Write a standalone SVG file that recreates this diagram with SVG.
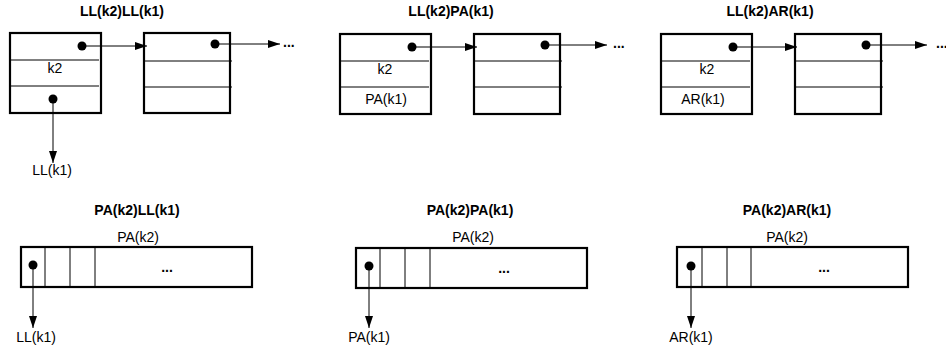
<svg xmlns="http://www.w3.org/2000/svg" width="946" height="351" viewBox="0 0 946 351">
<style>
text{font-family:"Liberation Sans",Arial,sans-serif;font-size:14px;fill:#000}
.t{font-weight:bold;text-anchor:middle}
.c{text-anchor:middle}
.d{font-weight:bold}
.box{fill:#fff;stroke:#000;stroke-width:2.2}
.div{stroke:#000;stroke-width:1}
.con{stroke:#000;stroke-width:1;fill:none;marker-end:url(#ah)}
.dot{fill:#000}
</style>
<defs>
<marker id="ah" markerUnits="userSpaceOnUse" markerWidth="13" markerHeight="9" refX="12" refY="4" orient="auto">
<path d="M0,0 L12,4 L0,8 z" fill="#000"/>
</marker>
</defs>
<rect width="946" height="351" fill="#fff"/>

<text class="t" x="122" y="16">LL(k2)LL(k1)</text>
<text class="t" x="451" y="16">LL(k2)PA(k1)</text>
<text class="t" x="770" y="16">LL(k2)AR(k1)</text>
<text class="t" x="137" y="215">PA(k2)LL(k1)</text>
<text class="t" x="470" y="215">PA(k2)PA(k1)</text>
<text class="t" x="787" y="215">PA(k2)AR(k1)</text>

<g id="p1-node1">
<rect class="box" x="10" y="33" width="91" height="80"/>
<line class="div" x1="10" y1="60" x2="99" y2="60"/>
<line class="div" x1="10" y1="86" x2="99" y2="86"/>
<text class="c" x="55" y="73">k2</text>
<circle class="dot" cx="82" cy="46" r="4.5"/>
<circle class="dot" cx="53" cy="99" r="4.5"/>
</g>
<g id="p1-node2">
<rect class="box" x="144" y="33" width="86" height="80"/>
<line class="div" x1="144" y1="61" x2="232" y2="61"/>
<line class="div" x1="144" y1="87" x2="232" y2="87"/>
<circle class="dot" cx="215" cy="44" r="4.5"/>
<text class="d" x="283" y="47">...</text>
</g>
<g id="p1-ll">
<text class="c" x="52" y="175">LL(k1)</text>
</g>

<g id="p2-node1">
<rect class="box" x="340" y="34" width="91" height="80"/>
<line class="div" x1="340" y1="61" x2="429" y2="61"/>
<line class="div" x1="340" y1="87" x2="429" y2="87"/>
<text class="c" x="385" y="74">k2</text>
<text class="c" x="386" y="104">PA(k1)</text>
<circle class="dot" cx="412" cy="47" r="4.5"/>
</g>
<g id="p2-node2">
<rect class="box" x="474" y="34" width="86" height="80"/>
<line class="div" x1="474" y1="61" x2="562" y2="61"/>
<line class="div" x1="474" y1="87" x2="562" y2="87"/>
<circle class="dot" cx="545" cy="45" r="4.5"/>
<text class="d" x="613" y="48">...</text>
</g>

<g id="p3-node1">
<rect class="box" x="661" y="34" width="91" height="80"/>
<line class="div" x1="661" y1="61" x2="750" y2="61"/>
<line class="div" x1="661" y1="87" x2="750" y2="87"/>
<text class="c" x="707" y="74">k2</text>
<text class="c" x="703" y="104">AR(k1)</text>
<circle class="dot" cx="733" cy="47" r="4.5"/>
</g>
<g id="p3-node2">
<rect class="box" x="795" y="34" width="86" height="80"/>
<line class="div" x1="795" y1="61" x2="883" y2="61"/>
<line class="div" x1="795" y1="87" x2="883" y2="87"/>
<circle class="dot" cx="866" cy="45" r="4.5"/>
<text class="d" x="936" y="48">...</text>
</g>

<g id="b1-array">
<text class="c" x="138" y="242">PA(k2)</text>
<rect class="box" x="21" y="247" width="231" height="40"/>
<line class="div" x1="45" y1="247" x2="45" y2="287"/>
<line class="div" x1="70" y1="247" x2="70" y2="287"/>
<line class="div" x1="95" y1="247" x2="95" y2="287"/>
<circle class="dot" cx="33" cy="265" r="4.5"/>
<text class="t" x="167" y="272">...</text>
</g>
<g id="b1-ll"><text class="c" x="36" y="342">LL(k1)</text></g>

<g id="b2-array">
<text class="c" x="473" y="242">PA(k2)</text>
<rect class="box" x="356" y="248" width="231" height="40"/>
<line class="div" x1="380" y1="248" x2="380" y2="288"/>
<line class="div" x1="405" y1="248" x2="405" y2="288"/>
<line class="div" x1="430" y1="248" x2="430" y2="288"/>
<circle class="dot" cx="369" cy="266" r="4.5"/>
<text class="t" x="504" y="273">...</text>
</g>
<g id="b2-pa"><text class="c" x="369" y="342">PA(k1)</text></g>

<g id="b3-array">
<text class="c" x="787" y="242">PA(k2)</text>
<rect class="box" x="677" y="247" width="231" height="40"/>
<line class="div" x1="702" y1="247" x2="702" y2="287"/>
<line class="div" x1="727" y1="247" x2="727" y2="287"/>
<line class="div" x1="751" y1="247" x2="751" y2="287"/>
<circle class="dot" cx="691" cy="266" r="4.5"/>
<text class="t" x="824" y="272">...</text>
</g>
<g id="b3-ar"><text class="c" x="691" y="342">AR(k1)</text></g>

<g id="connectors">
<line class="con" x1="82" y1="46" x2="147" y2="46"/>
<line class="con" x1="215" y1="44" x2="280" y2="44"/>
<line class="con" x1="53" y1="99" x2="53" y2="163"/>
<line class="con" x1="412" y1="47" x2="477" y2="47"/>
<line class="con" x1="545" y1="45" x2="607" y2="45"/>
<line class="con" x1="733" y1="47" x2="797" y2="47"/>
<line class="con" x1="866" y1="45" x2="927" y2="45"/>
<line class="con" x1="33" y1="265" x2="33" y2="328"/>
<line class="con" x1="369" y1="266" x2="369" y2="328"/>
<line class="con" x1="691" y1="266" x2="691" y2="328"/>
</g>
</svg>
